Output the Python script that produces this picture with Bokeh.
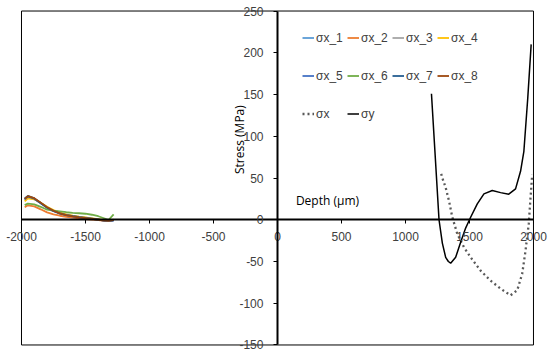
from bokeh.plotting import figure
from bokeh.models import Range1d, Legend, LegendItem, Label, FixedTicker
from bokeh.embed import file_html
from bokeh.resources import INLINE

# ---- data ----
depth_left = [-1975, -1950, -1900, -1850, -1800, -1750, -1700, -1650, -1600,
              -1550, -1500, -1450, -1400, -1350, -1320, -1280]
sx_1 = [24.0, 27.5, 25.0, 20.0, 14.8, 10.8, 7.8, 5.8, 4.4, 3.3, 2.3, 1.3, 0.3, -1.0, -1.4, -0.8]
sx_2 = [15.0, 17.3, 16.0, 12.5, 8.8, 6.4, 4.8, 3.6, 2.6, 1.7, 0.9, 0.3, -0.3, -1.2, -1.3, -0.2]
sx_3 = [23.5, 27.0, 25.0, 20.2, 15.0, 11.0, 8.0, 6.0, 4.6, 3.5, 2.5, 1.5, 0.5, -0.8, -1.2, -0.5]
sx_4 = [22.0, 25.5, 24.5, 20.5, 15.5, 11.5, 8.5, 6.3, 4.8, 3.7, 2.7, 1.7, 0.6, -0.6, -1.0, 0.0]
sx_5 = [24.5, 27.8, 25.2, 19.8, 14.2, 10.2, 7.3, 5.5, 4.2, 3.0, 2.0, 1.1, 0.1, -1.2, -1.6, -1.0]
sx_6 = [17.5, 19.4, 18.5, 15.5, 12.0, 10.8, 10.0, 9.0, 8.3, 7.8, 7.2, 6.0, 4.2, 1.5, -0.3, 6.5]
sx_7 = [25.5, 28.6, 25.5, 20.0, 14.5, 10.5, 7.5, 5.6, 4.3, 3.1, 2.1, 1.2, 0.2, -1.0, -1.3, -0.5]
sx_8 = [25.0, 28.2, 25.8, 20.5, 15.0, 10.8, 7.6, 5.4, 4.0, 2.9, 1.9, 1.0, 0.0, -1.1, -1.2, -0.3]

depth_sy = [1203, 1230, 1262, 1288, 1314, 1335, 1353, 1392, 1431, 1470, 1509, 1561,
            1613, 1678, 1743, 1807, 1860, 1899, 1925, 1955, 1982]
sigma_y = [151, 82, 0, -28, -45, -50, -52, -45, -27, -10, 3, 19,
           31, 35, 32.5, 30.6, 37, 58, 82, 145, 210]

depth_sx = [1279, 1288, 1314, 1340, 1366, 1405, 1457, 1509, 1587, 1665, 1743,
            1821, 1873, 1912, 1938, 1963, 1977, 1990]
sigma_x = [55, 50, 38.5, 22.6, 3, -17, -33, -45, -61, -73, -82.5,
           -90.5, -84.5, -64.6, -37, -5, 26.5, 54]

x_ticks = [-2000, -1500, -1000, -500, 0, 500, 1000, 1500, 2000]
y_ticks = [-150, -100, -50, 0, 50, 100, 150, 200, 250]
x_tick_labels = ["-2000", "-1500", "-1000", "-500", "0", "500", "1000", "1500", "2000"]
y_tick_labels = ["-150", "-100", "-50", "0", "50", "100", "150", "200", "250"]

left_names = ["σx_1", "σx_2", "σx_3", "σx_4", "σx_5", "σx_6", "σx_7", "σx_8"]
left_series = [sx_1, sx_2, sx_3, sx_4, sx_5, sx_6, sx_7, sx_8]
left_colors = ["#5B9BD5", "#ED7D31", "#A5A5A5", "#FFC000",
               "#4472C4", "#70AD47", "#255E91", "#9E480E"]

TICK_FONT = "Liberation Sans"
TICK_COLOR = "#404040"

xmin, xmax = x_ticks[0], x_ticks[-1]
ymin, ymax = y_ticks[0], y_ticks[-1]

# frame spans the whole canvas so the end tick labels are not clipped;
# the plot-area box is drawn at the axis limits
p = figure(width=550, height=354, output_backend="svg", toolbar_location=None,
           x_range=Range1d(-2164, 2133), y_range=Range1d(-161.4, 262.6),
           min_border=0)
p.background_fill_color = "white"
p.border_fill_color = "white"
p.outline_line_color = None
p.xgrid.visible = False
p.ygrid.visible = False

p.quad(left=[xmin], right=[xmax], bottom=[ymin], top=[ymax],
       fill_color=None, line_color="black", line_width=1)

for ax, ticks, labels, bnds in ((p.xaxis[0], x_ticks, x_tick_labels, (xmin, xmax)),
                                (p.yaxis[0], y_ticks, y_tick_labels, (ymin, ymax))):
    ax.fixed_location = 0
    ax.bounds = bnds
    ax.ticker = FixedTicker(ticks=ticks)
    ax.major_label_overrides = {t: s for t, s in zip(ticks, labels)}
    ax.axis_line_color = "black"
    ax.axis_line_width = 2
    ax.major_tick_line_color = "black"
    ax.major_tick_in = 0
    ax.major_tick_out = 4
    ax.minor_tick_line_color = None
    ax.major_label_text_font = TICK_FONT
    ax.major_label_text_font_size = "12px"
    ax.major_label_text_color = TICK_COLOR
p.xaxis.major_label_standoff = 8
p.yaxis.major_label_standoff = 10

renderers = []
for name, ys, col in zip(left_names, left_series, left_colors):
    r = p.line(depth_left, ys, line_color=col, line_width=1.8)
    renderers.append((name, r))

r_sx = p.line(depth_sx, sigma_x, line_color="#595959", line_width=2.3, line_dash="2 3")
r_sy = p.line(depth_sy, sigma_y, line_color="black", line_width=1.5)
renderers.append(("σx", r_sx))
renderers.append(("σy", r_sy))

legend = Legend(items=[LegendItem(label=n, renderers=[r]) for n, r in renderers],
                orientation="horizontal", ncols=4, location=(302, 223),
                padding=0, margin=0, spacing=3,
                glyph_width=12, glyph_height=35, label_height=35, label_width=28,
                label_standoff=2, border_line_color=None, background_fill_alpha=0,
                label_text_font=TICK_FONT, label_text_font_size="12px",
                label_text_color=TICK_COLOR)
p.add_layout(legend, "center")

p.add_layout(Label(x=144, y=23, text="Depth (μm)", text_font="Open Sans",
                   text_font_size="12px", text_color="black", text_baseline="middle"))
p.add_layout(Label(x=-300, y=96, text="Stress (MPa)", text_font="Open Sans",
                   text_font_size="12px", text_color="black", angle=1.5708,
                   text_align="center", text_baseline="middle"))

open("out.html", "w").write(file_html(p, INLINE))
